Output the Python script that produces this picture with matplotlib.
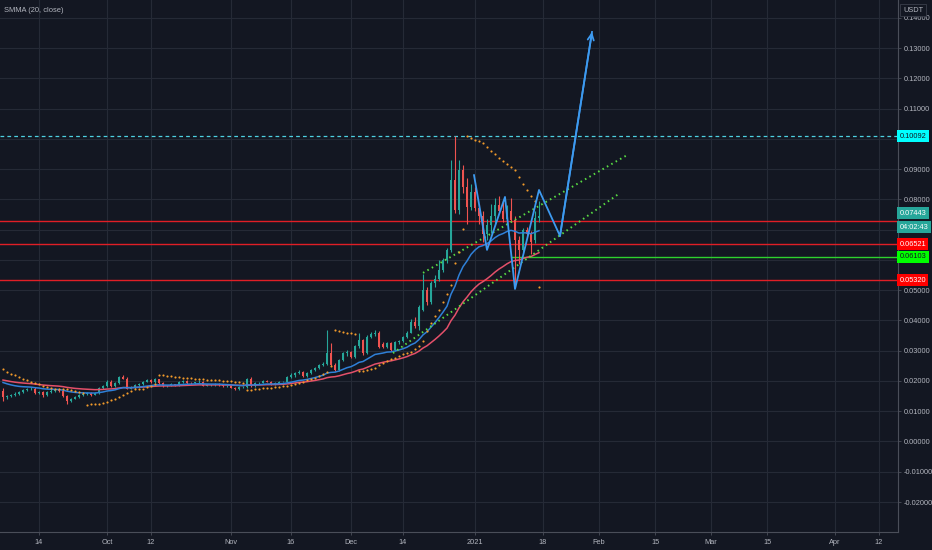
import matplotlib
matplotlib.use('Agg')
import matplotlib.pyplot as plt
import matplotlib.dates as mdates
from matplotlib.ticker import FuncFormatter
import numpy as np
import pandas as pd

# daily candles, Sep 5 2020 .. Jan 17 2021, prices in 1/1000 USDT
opens = [16.8, 14.6, 15.0, 15.3, 15.7, 16.3, 17.0, 17.3, 17.5, 16.0,
         16.4, 15.2, 16.3, 16.8, 16.9, 16.6, 15.0, 13.4, 14.2, 14.6,
         15.2, 15.7, 16.0, 15.4, 16.0, 17.6, 18.2, 19.8, 18.2, 19.2,
         21.4, 20.8, 17.5, 17.8, 18.6, 19.0, 19.8, 20.2, 19.6, 20.5,
         19.2, 18.3, 18.4, 18.9, 18.7, 19.6, 20.0, 19.4, 19.3, 19.5,
         19.8, 18.5, 18.6, 18.7, 19.0, 18.8, 18.2, 18.3, 17.8, 17.3,
         18.0, 18.0, 20.5, 18.3, 19.3, 19.4, 20.0, 19.8, 19.0, 19.2,
         19.7, 19.8, 21.2, 22.0, 22.5, 23.0, 21.5, 22.5, 23.6, 24.2,
         25.2, 25.5, 29.1, 25.3, 23.6, 26.9, 29.1, 29.5, 28.0, 31.5,
         33.5, 29.1, 34.6, 35.5, 36.0, 32.2, 31.3, 32.6, 30.2, 32.8,
         33.3, 34.5, 36.0, 39.6, 38.0, 43.4, 50.0, 46.0, 52.2, 53.8,
         56.6, 59.9, 63.2, 86.4, 76.5, 89.7, 84.2, 77.5, 82.5, 77.0,
         74.5, 68.5, 71.5, 74.5, 78.0, 76.0, 73.5, 76.0, 73.2, 66.6,
         63.2, 69.9, 68.5, 66.6, 74.0]
highs = [17.6, 15.4, 15.8, 16.2, 16.8, 17.5, 17.8, 18.0, 17.9, 16.8,
         16.8, 16.6, 17.2, 17.3, 17.2, 16.9, 15.3, 14.5, 14.9, 15.6,
         16.1, 16.4, 16.2, 16.3, 17.9, 18.6, 20.4, 20.2, 19.6, 21.8,
         21.9, 21.2, 18.2, 18.9, 19.3, 20.1, 20.6, 20.5, 20.9, 20.7,
         19.5, 18.8, 19.2, 19.1, 20.0, 20.4, 20.2, 19.7, 19.8, 20.2,
         20.0, 18.9, 19.0, 19.3, 19.2, 19.0, 18.6, 18.5, 18.0, 18.3,
         18.4, 20.9, 21.2, 19.6, 19.8, 20.3, 20.2, 20.1, 19.5, 19.9,
         20.1, 21.5, 22.5, 22.9, 23.5, 23.3, 22.8, 23.9, 24.5, 25.6,
         26.2, 36.8, 32.5, 25.9, 27.3, 29.6, 30.2, 29.9, 32.0, 35.9,
         34.0, 35.2, 36.2, 36.8, 36.4, 32.8, 33.0, 33.0, 33.2, 33.6,
         35.0, 36.5, 40.5, 41.0, 45.0, 55.5, 51.0, 53.0, 55.0, 60.0,
         60.5, 64.0, 93.0, 100.9, 93.0, 91.5, 87.0, 85.0, 84.0, 78.5,
         76.0, 73.5, 78.5, 80.5, 81.0, 79.0, 78.0, 80.5, 74.5, 68.0,
         70.5, 71.0, 69.5, 76.0, 79.5]
lows = [13.4, 14.2, 14.6, 15.0, 15.4, 16.0, 16.6, 17.0, 15.6, 15.7,
        14.8, 15.0, 16.0, 16.5, 16.3, 14.6, 12.3, 13.0, 13.9, 14.3,
        14.9, 15.4, 15.1, 15.2, 15.6, 17.2, 17.9, 17.9, 17.9, 19.0,
        20.5, 17.2, 17.2, 17.5, 18.3, 18.7, 19.5, 19.3, 19.4, 19.0,
        18.0, 18.0, 18.2, 18.4, 18.5, 19.3, 19.1, 19.0, 19.1, 19.3,
        18.2, 18.2, 18.3, 18.5, 18.5, 18.0, 18.0, 17.6, 17.0, 17.1,
        17.7, 17.8, 18.0, 18.1, 19.0, 19.2, 19.6, 18.8, 18.8, 19.0,
        19.5, 19.6, 21.0, 21.3, 22.2, 21.2, 21.3, 22.3, 23.3, 23.9,
        24.8, 25.2, 24.8, 23.2, 23.3, 26.5, 28.4, 27.6, 27.7, 31.0,
        28.6, 28.8, 34.2, 35.0, 30.9, 30.8, 31.0, 29.8, 30.0, 32.3,
        33.0, 34.2, 35.7, 37.5, 37.0, 43.0, 45.0, 45.5, 51.0, 53.0,
        56.0, 59.0, 62.5, 75.5, 75.0, 82.0, 72.0, 76.5, 76.0, 72.0,
        66.0, 66.5, 69.0, 72.0, 75.5, 72.5, 72.0, 72.5, 51.0, 58.5,
        62.5, 67.5, 62.0, 65.5, 72.5]
closes = [14.6, 15.0, 15.3, 15.7, 16.3, 17.0, 17.3, 17.5, 16.0, 16.4,
          15.2, 16.3, 16.8, 16.9, 16.6, 15.0, 13.4, 14.2, 14.6, 15.2,
          15.7, 16.0, 15.4, 16.0, 17.6, 18.2, 19.8, 18.2, 19.2, 21.4,
          20.8, 17.5, 17.8, 18.6, 19.0, 19.8, 20.2, 19.6, 20.5, 19.2,
          18.3, 18.4, 18.9, 18.7, 19.6, 20.0, 19.4, 19.3, 19.5, 19.8,
          18.5, 18.6, 18.7, 19.0, 18.8, 18.2, 18.3, 17.8, 17.3, 18.0,
          18.0, 20.5, 18.3, 19.3, 19.4, 20.0, 19.8, 19.0, 19.2, 19.7,
          19.8, 21.2, 22.0, 22.5, 23.0, 21.5, 22.5, 23.6, 24.2, 25.2,
          25.5, 29.1, 25.3, 23.6, 26.9, 29.1, 29.5, 28.0, 31.5, 33.5,
          29.1, 34.6, 35.5, 36.0, 31.3, 31.3, 32.6, 30.2, 32.8, 33.3,
          34.5, 36.0, 39.6, 38.0, 44.5, 50.0, 46.0, 52.2, 53.8, 56.6,
          59.9, 63.2, 86.4, 76.5, 89.7, 84.2, 77.5, 82.5, 77.0, 74.5,
          68.5, 71.5, 74.5, 78.0, 76.0, 73.5, 76.0, 73.2, 66.6, 63.2,
          69.9, 68.5, 66.0, 74.0, 74.43]
first_day = '2020-09-05'

smma_start = 20.6
blue_start = 20.0
sar_start, sar_ep_start, sar_af_start = 23.8, 12.2, 0.06

# drawings
levels_red = [0.0729, 0.06521, 0.05320]
level_cyan = 0.10092
level_green = 0.06103
green_start = '2021-01-10'
trend_upper = (['2020-12-19 00:00', '2021-02-08 00:00'], [0.0557, 0.0946])
trend_lower = (['2020-12-11 12:00', '2021-02-06 06:00'], [0.0292, 0.0821])
path_dates = ['2020-12-31 18:00', '2021-01-04 00:00', '2021-01-08 12:00', '2021-01-11 00:00',
              '2021-01-17 00:00', '2021-01-22 06:00', '2021-01-30 06:00']
path_prices = [0.0880, 0.0633, 0.0808, 0.0504, 0.0831, 0.0679, 0.1353]
last_price = 0.07443
countdown = '04:02:43'

tick_dates = ['2020-09-14', '2020-10-01', '2020-10-12', '2020-11-01', '2020-11-16',
              '2020-12-01', '2020-12-14', '2021-01-01', '2021-01-18', '2021-02-01',
              '2021-02-15', '2021-03-01', '2021-03-15', '2021-04-01', '2021-04-12']
tick_labels = ['14', 'Oct', '12', 'Nov', '16', 'Dec', '14', '2021', '18', 'Feb',
               '15', 'Mar', '15', 'Apr', '12']
price_ticks = [-0.02, -0.01, 0.0, 0.01, 0.02, 0.03, 0.04, 0.05, 0.06, 0.07,
               0.08, 0.09, 0.10, 0.11, 0.12, 0.13, 0.14]
hidden_ticks = [0.06, 0.07, 0.10]   # covered by the price tags

BG = '#131722'
GRID = '#252a36'
TXT = '#b2b5be'
UP, DOWN = '#26a69a', '#ef5350'
FONT = ['Liberation Sans Narrow', 'Liberation Sans', 'DejaVu Sans']
FS = 5.3


def to_num(dates):
    return mdates.date2num(pd.to_datetime(dates, format='mixed'))


def smma(vals, n, start):
    out, s = [], start
    for v in vals:
        s = (s * (n - 1) + v) / n
        out.append(s)
    return np.array(out)


def ema(vals, n, start):
    a = 2 / (n + 1)
    out, s = [], start
    for v in vals:
        s = s + a * (v - s)
        out.append(s)
    return np.array(out)


def psar(hi, lo, sar, ep, af, up=False, step=0.02, amax=0.2):
    out = [sar]
    for i in range(1, len(hi)):
        sar = sar + af * (ep - sar)
        if up:
            sar = min(sar, lo[i - 1], lo[max(i - 2, 0)])
            if lo[i] < sar:
                up, sar, ep, af = False, ep, lo[i], step
            elif hi[i] > ep:
                ep, af = hi[i], min(af + step, amax)
        else:
            sar = max(sar, hi[i - 1], hi[max(i - 2, 0)])
            if hi[i] > sar:
                up, sar, ep, af = True, ep, hi[i], step
            elif lo[i] < ep:
                ep, af = lo[i], min(af + step, amax)
        out.append(sar)
    return np.array(out)


o = np.array(opens) / 1000
h = np.array(highs) / 1000
l = np.array(lows) / 1000
c = np.array(closes) / 1000
days = mdates.date2num(pd.date_range(first_day, periods=len(c)))

red_line = smma(c, 20, smma_start / 1000)
blue_line = ema(c, 20, blue_start / 1000)
sar = psar(h, l, sar_start / 1000, sar_ep_start / 1000, sar_af_start)

fig = plt.figure(figsize=(9.32, 5.5), dpi=100, facecolor=BG)
ax = fig.add_axes([0, 18 / 550, 898 / 932, 532 / 550], facecolor=BG)

jan1 = mdates.date2num(pd.Timestamp('2021-01-01'))
ax.set_xlim(jan1 - 118.75, jan1 + 105.75)
ax.set_ylim(-0.0299, 0.14586)


def fmt_price(v, pos):
    if any(abs(v - t) < 1e-9 for t in hidden_ticks):
        return ''
    return f'{v:.5f}'


# grid
ax.set_xticks(to_num(tick_dates))
ax.set_xticklabels(tick_labels)
ax.set_yticks(price_ticks)
ax.yaxis.set_major_formatter(FuncFormatter(fmt_price))
ax.yaxis.tick_right()
ax.grid(True, color=GRID, lw=0.8)
ax.set_axisbelow(True)
ax.tick_params(colors=TXT, labelsize=FS, length=2.5, width=0.6, pad=1.5)
ax.tick_params(axis='x', color='#4a4e59', pad=2.5)
ax.tick_params(axis='y', color='#4a4e59')
for lab in ax.get_xticklabels() + ax.get_yticklabels():
    lab.set_family(FONT)
for side in ['top', 'left']:
    ax.spines[side].set_visible(False)
for side in ['right', 'bottom']:
    ax.spines[side].set_color('#4a4e59')
    ax.spines[side].set_linewidth(0.8)

# horizontal levels
for lv in levels_red:
    ax.axhline(lv, color='#e01e26', lw=1.0, zorder=2)
ax.axhline(level_cyan, color='#4dd0e1', lw=0.9, ls=(0, (3, 2.5)), zorder=2)
ax.hlines(level_green, to_num([green_start])[0], jan1 + 105.75,
          color='#2ed12e', lw=1.0, zorder=2)

# candles
col = np.where(c >= o, UP, DOWN)
ax.vlines(days, l, h, colors=col, lw=0.8, zorder=3)
body = np.maximum(np.abs(c - o), 0.00012)
ax.bar(days, body, bottom=np.minimum(o, c), width=0.72, color=col, lw=0, zorder=3)

# indicators
ax.plot(days, red_line, color='#e4506a', lw=1.1, zorder=4)
ax.plot(days, blue_line, color='#2f80d8', lw=1.1, zorder=4)
ax.scatter(days, sar, s=2.4, color='#f29b2b', lw=0, zorder=5)

# trend lines and projection path
for d, p in (trend_upper, trend_lower):
    ax.plot(to_num(d), p, color='#58dc44', lw=1.4, ls=(0, (0.8, 1.8)), zorder=4)
px = to_num(path_dates)
ax.plot(px, path_prices, color='#3d9af0', lw=1.3, zorder=6)
ax.annotate('', xy=(px[-1], path_prices[-1]), xytext=(px[-2], path_prices[-2]),
            arrowprops=dict(arrowstyle='->', color='#3d9af0', lw=1.3,
                            mutation_scale=11, shrinkA=0, shrinkB=0), zorder=6)

# price scale labels
ytr = ax.get_yaxis_transform()


def price_tag(y, text, fc, tc, dy=0.0):
    ax.text(1.0015, y + dy, text, transform=ytr, ha='left', va='center',
            fontsize=FS, family=FONT, color=tc, clip_on=False, zorder=10,
            bbox=dict(boxstyle='square,pad=0.34', fc=fc, ec='none'))


price_tag(level_cyan, f'{level_cyan:.5f}', '#00ffff', '#131722')
price_tag(last_price, f'{last_price:.5f}', '#26a69a', 'white', 0.0010)
price_tag(last_price, countdown, '#26a69a', 'white', -0.0036)
price_tag(levels_red[1], f'{levels_red[1]:.5f}', '#ff0000', 'white')
price_tag(level_green, f'{level_green:.5f}', '#00ff00', '#131722')
price_tag(levels_red[2], f'{levels_red[2]:.5f}', '#ff0000', 'white')

fig.text(913 / 932, 1 - 10 / 550, 'USDT', ha='center', va='center', fontsize=FS,
         family=FONT, color=TXT, zorder=10,
         bbox=dict(boxstyle='square,pad=0.35', fc=BG, ec='#3a3e4a', lw=0.6))
fig.text(4 / 932, 1 - 10 / 550, 'SMMA (20, close)', ha='left', va='center',
         fontsize=5.4, family=FONT, color=TXT)

fig.savefig('out.png', dpi=100, facecolor=BG)
